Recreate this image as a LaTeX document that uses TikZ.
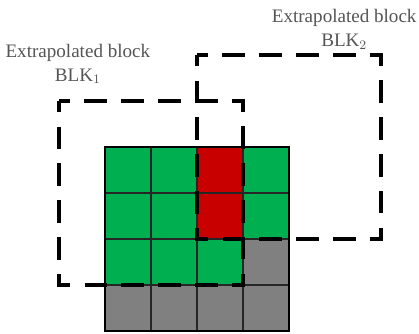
\documentclass[tikz,border=0pt]{standalone}
\usepackage{fontspec}
\setmainfont{Liberation Serif}
\usepackage{xcolor}
\usepackage{tikz}
\usetikzlibrary{positioning}
\definecolor{cellgreen}{RGB}{0,176,80}
\definecolor{cellred}{RGB}{200,0,0}
\definecolor{cellgray}{RGB}{128,128,128}
\definecolor{labelgray}{RGB}{85,85,85}
\tikzstyle{gridline} = [line width=0.9pt, draw=black!85]
\tikzstyle{border} = [line width=1.5pt, draw=black]
\tikzstyle{blkline} = [line width=2pt, draw=black, dash pattern=on 14pt off 8.76pt, dash phase=7pt]
\tikzstyle{blklabel} = [align=center, text=labelgray, font=\fontsize{11.8}{14.5}\selectfont, inner sep=0pt]

\begin{document}
\begin{tikzpicture}
					\useasboundingbox (-2.283,-0.065) rectangle (6.826,7.196);
					% cells of the current block
					\fill [cellgreen] (0,1) rectangle (4,4);
					\fill [cellred] (2,2) rectangle (3,4);
					\fill [cellgray] (0,0) rectangle (4,1);
					\fill [cellgray] (3,1) rectangle (4,2);
					\draw [gridline] (0,0) grid (4,4);
					\draw [border] (0,0) rectangle (4,4);

					% extrapolated blocks
					\draw [blkline] (-1,5) -- (3,5) -- (3,1) -- (-1,1) -- cycle;
					\draw [blkline] (2,6) -- (6,6) -- (6,2) -- (2,2) -- cycle;

					\node (lbl1) [blklabel] at (-0.59,5.8) {Extrapolated block\\BLK$_1$};
					\node (lbl2) [blklabel] at (5.2,6.56) {Extrapolated block\\BLK$_2$};
			\end{tikzpicture}
\end{document}
